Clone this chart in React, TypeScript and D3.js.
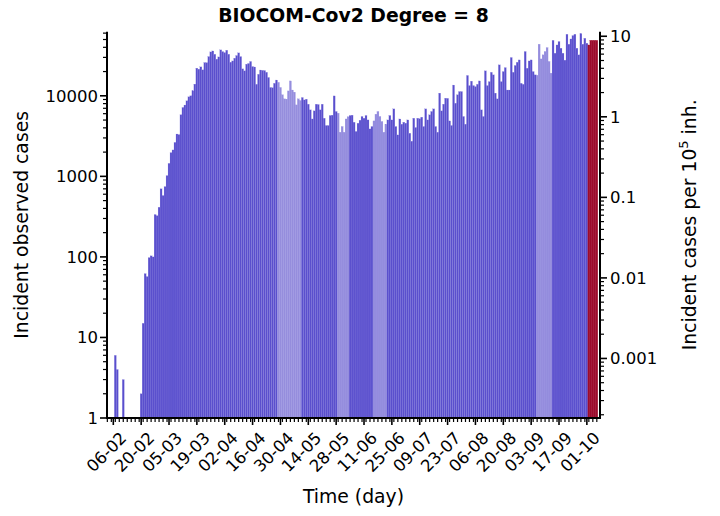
import React from 'react';
import * as d3 from 'd3';

const DAY = 86400000;
const firstDay = Date.UTC(2020, 1, 7);
const cases = [
  6, 4, 0, 0, 3, 0, 0, 0, 0, 0, 0, 0, 0, 2, 15, 62, 57, 98, 103, 100,
  336, 325, 414, 700, 578, 746, 1022, 1450, 1970, 2128, 2640, 3355, 3300, 5820, 7170, 7680, 8670, 9720, 10000, 11540,
  13960, 22030, 21400, 22860, 21000, 25870, 25800, 30700, 35070, 36060, 32800, 28500, 30400, 37150, 35400, 34400, 36800, 32800, 26100, 27100,
  29300, 31600, 34100, 30700, 21600, 20400, 24700, 25200, 26700, 23100, 22800, 13900, 18500, 20900, 20700, 20600, 19600, 16900, 12700, 12600,
  14300, 15700, 14700, 12700, 10300, 9160, 9100, 11500, 15300, 11800, 11100, 7710, 9160, 8750, 9530, 8890, 9080, 7870, 6690, 5160,
  6500, 7870, 7800, 6690, 7870, 5270, 4280, 4280, 5700, 5750, 9970, 6390, 6080, 3530, 4160, 3530, 5160, 5500, 5700, 5750,
  4700, 3610, 4570, 4980, 5540, 5270, 5700, 5020, 3880, 4160, 4880, 5910, 6390, 5540, 4800, 3530, 4440, 5020, 5700, 5020,
  6880, 4160, 3270, 5160, 4440, 4700, 4570, 5020, 3430, 2730, 5270, 4040, 5270, 5200, 5430, 4160, 6880, 5020, 5800, 6390,
  6880, 4160, 3530, 10800, 6500, 7870, 9340, 9300, 4880, 4280, 13600, 8090, 10300, 11300, 11300, 5540, 4440, 17900, 13400, 15200,
  13400, 13000, 13900, 15300, 6690, 5540, 20400, 13400, 15000, 19600, 18200, 10800, 9160, 24200, 15000, 20000, 22400, 11800, 11800, 29900,
  19600, 23800, 26100, 27900, 14300, 13900, 35500, 22000, 27100, 27900, 20000, 18200, 18000, 43700, 28700, 32200, 35500, 39700, 26700, 19100,
  48900, 33800, 42800, 47200, 39000, 33800, 27700, 58100, 43700, 50800, 56000, 58100, 39000, 32200, 59300, 43700, 51800, 45000, 42800, 48900,
  48900, 48900, 48900,
];
const dates = cases.map((_, i) => new Date(firstDay + i * DAY));
const lightPeriods: [string, string][] = [
  ['2020-04-29', '2020-05-10'],
  ['2020-05-29', '2020-06-03'],
  ['2020-06-16', '2020-06-22'],
  ['2020-09-06', '2020-09-13'],
];
const highlightFrom = '2020-10-02';
const tickLabels = ['06-02', '20-02', '05-03', '19-03', '02-04', '16-04', '30-04', '14-05', '28-05', '11-06', '25-06', '09-07', '23-07', '06-08', '20-08', '03-09', '17-09', '01-10'];
const leftTicks = [1, 10, 100, 1000, 10000];
const rightTicks = [0.001, 0.01, 0.1, 1, 10];
const rightTickLabels = ['0.001', '0.01', '0.1', '1', '10'];
const population = 5.486e8;

const W = 720, H = 516;
const L = 107, R = 600, T = 31.7, B = 418;
const FONT = 'DejaVu Sans, sans-serif';
const DARK = '#5a4fcd';
const LIGHT = '#958ddd';
const RED = '#9c0a2c';
const TICKFS = 16.5;

export default function App() {
  const x = d3.scaleUtc()
    .domain([new Date(Date.UTC(2020, 1, 6) - 3.17 * DAY), new Date(Date.UTC(2020, 1, 6) + 244.6 * DAY)])
    .range([L, R]);
  const yMax = 62500;
  const y = d3.scaleLog().domain([1, yMax]).range([B, T]);
  const k = 1e5 / population;
  const y2 = d3.scaleLog().domain([k, yMax * k]).range([B, T]);

  const parse = (s: string) => new Date(s + 'T00:00:00Z').getTime();
  const hl = parse(highlightFrom);
  const colorOf = (dt: Date) => {
    const t = dt.getTime();
    if (t >= hl) return RED;
    for (const [a, b] of lightPeriods) if (t >= parse(a) && t <= parse(b)) return LIGHT;
    return DARK;
  };

  const majorDates = tickLabels.map((lab) => {
    const [dd, mm] = lab.split('-').map(Number);
    return new Date(Date.UTC(2020, mm - 1, dd));
  });
  const minorDates: Date[] = [];
  const [d0, d1] = x.domain();
  for (let t = Date.UTC(2020, 1, 7); t <= d1.getTime(); t += 2 * DAY) minorDates.push(new Date(t));
  for (let t = Date.UTC(2020, 1, 5); t >= d0.getTime(); t -= 2 * DAY) minorDates.push(new Date(t));

  const minorLeft: number[] = [];
  for (let e = 0; e <= 4; e++) for (let m = 2; m <= 9; m++) { const v = m * 10 ** e; if (v <= yMax) minorLeft.push(v); }
  const minorRight: number[] = [];
  const [r0, r1] = y2.domain();
  for (let e = -5; e <= 1; e++) for (let m = 2; m <= 9; m++) { const v = m * 10 ** e; if (v >= r0 && v <= r1) minorRight.push(v); }

  const tickW = 1.6;
  return (
    <div style={{ position: 'absolute', left: 0, top: 0 }}>
      <svg width={W} height={H} style={{ display: 'block', background: '#fff' }} fontFamily={FONT}>
        <g>
          {dates.map((dt, i) => {
            const v = cases[i];
            if (!v) return null;
            const x0 = x(new Date(dt.getTime() - 0.5 * DAY));
            const x1 = x(new Date(dt.getTime() + 0.5 * DAY));
            const c = colorOf(dt);
            return (
              <rect key={i} x={x0} y={y(v)} width={x1 - x0} height={B - y(v)} fill={c}
                stroke={c === RED ? RED : '#8e87e0'} strokeWidth={0.2} />
            );
          })}
        </g>
        {/* spines */}
        <line x1={L} x2={L} y1={T} y2={B} stroke="#000" strokeWidth={2} />
        <line x1={R} x2={R} y1={T} y2={B} stroke="#000" strokeWidth={2} />
        <line x1={L - 1} x2={R + 1} y1={B} y2={B} stroke="#000" strokeWidth={2} />
        {/* left ticks */}
        {leftTicks.map((v) => (
          <g key={'l' + v}>
            <line x1={L} x2={L - 7} y1={y(v)} y2={y(v)} stroke="#000" strokeWidth={tickW} />
            <text x={L - 9} y={y(v)} dy="0.36em" textAnchor="end" fontSize={TICKFS}>{v}</text>
          </g>
        ))}
        {minorLeft.map((v) => (
          <line key={'lm' + v} x1={L} x2={L - 4} y1={y(v)} y2={y(v)} stroke="#000" strokeWidth={1.2} />
        ))}
        {/* right ticks */}
        {rightTicks.map((v, i) => (
          <g key={'r' + v}>
            <line x1={R} x2={R + 7} y1={y2(v)} y2={y2(v)} stroke="#000" strokeWidth={tickW} />
            <text x={R + 10} y={y2(v)} dy="0.36em" textAnchor="start" fontSize={TICKFS}>{rightTickLabels[i]}</text>
          </g>
        ))}
        {minorRight.map((v) => (
          <line key={'rm' + v} x1={R} x2={R + 4} y1={y2(v)} y2={y2(v)} stroke="#000" strokeWidth={1.2} />
        ))}
        {/* x ticks */}
        {minorDates.map((d) => (
          <line key={'xm' + d.getTime()} x1={x(d)} x2={x(d)} y1={B} y2={B + 4} stroke="#000" strokeWidth={1.2} />
        ))}
        {majorDates.map((d, i) => (
          <g key={'xM' + i}>
            <line x1={x(d)} x2={x(d)} y1={B} y2={B + 7} stroke="#000" strokeWidth={tickW} />
            <text transform={`translate(${x(d) + 6},${B + 13}) rotate(-45)`} textAnchor="end" dy="0.7em" fontSize={TICKFS}>{tickLabels[i]}</text>
          </g>
        ))}
        {/* labels */}
        <text x={(L + R) / 2} y={22} textAnchor="middle" fontWeight="bold" fontSize={18.8}>BIOCOM-Cov2 Degree = 8</text>
        <text x={(L + R) / 2} y={503} textAnchor="middle" fontSize={18.8}>Time (day)</text>
        <text transform={`translate(28,${(T + B) / 2}) rotate(-90)`} textAnchor="middle" fontSize={18.8}>Incident observed cases</text>
        <text transform={`translate(696,${(T + B) / 2}) rotate(-90)`} textAnchor="middle" fontSize={18.8}>
          Incident cases per 10<tspan dy="-8" fontSize={13}>5</tspan><tspan dy="8"> inh.</tspan>
        </text>
      </svg>
    </div>
  );
}
